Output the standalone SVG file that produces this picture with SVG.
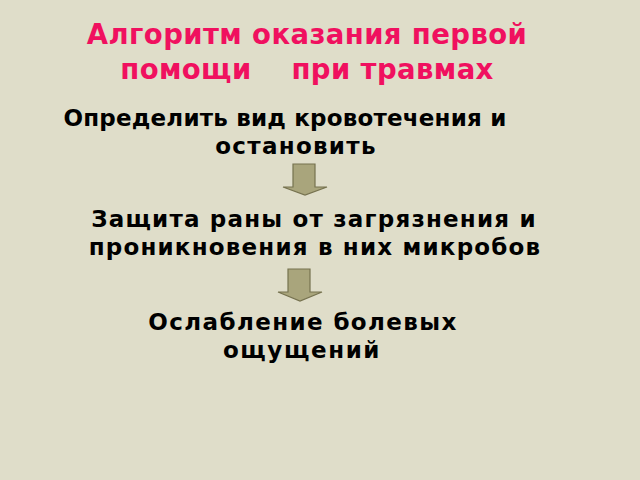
<svg xmlns="http://www.w3.org/2000/svg" width="640" height="480" viewBox="0 0 640 480">
<style>
.t{font-family:"DejaVu Sans","Noto Sans",sans-serif;font-weight:bold;text-anchor:middle}
.title{fill:#f0105f;font-size:27.5px;letter-spacing:0.4px}
.body{fill:#000;font-size:23px;letter-spacing:0.2px}
.arr{fill:#a9a57c;stroke:#76724f;stroke-width:1.2}
</style>
<rect width="640" height="480" fill="#dfddc9"/>
<g id="title">
<text class="t title" x="307" y="44">Алгоритм оказания первой</text>
<text class="t title" x="307" y="79" xml:space="preserve">помощи    при травмах</text>
</g>
<g id="step1">
<text class="t body" x="285" y="126">Определить вид кровотечения и</text>
<text class="t body" x="296" y="154" style="letter-spacing:1.3px">остановить</text>
</g>
<g id="step2">
<text class="t body" x="314" y="227" style="letter-spacing:1.2px">Защита раны от загрязнения и</text>
<text class="t body" x="315" y="255" style="letter-spacing:1.2px">проникновения в них микробов</text>
</g>
<g id="step3">
<text class="t body" x="303" y="330" style="letter-spacing:1.4px">Ослабление болевых</text>
<text class="t body" x="302" y="358" style="letter-spacing:1.6px">ощущений</text>
</g>
<g id="connectors">
<path class="arr" d="M293,164 H315 V187 H327 L305,195 L283,187 H293 Z"/>
<path class="arr" d="M288,269 H310 V292 H322 L300,301 L278,292 H288 Z"/>
</g>
</svg>
